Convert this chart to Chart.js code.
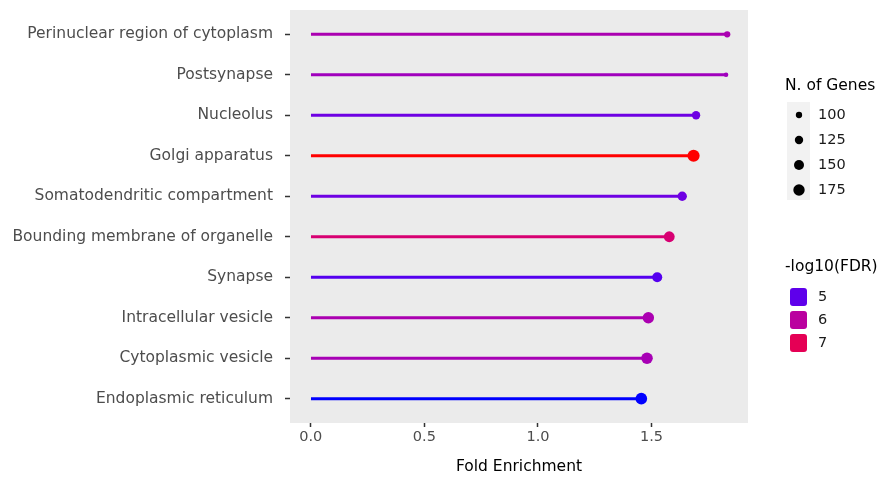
<!DOCTYPE html>
<html>
<head>
<meta charset="utf-8">
<script src="https://cdn.jsdelivr.net/npm/chart.js@4/dist/chart.umd.min.js"></script>
<style>
  html, body { margin: 0; padding: 0; background: #ffffff; }
  canvas { display: block; }
</style>
</head>
<body>
<canvas id="chart" width="879" height="479"></canvas>
<script>
// Cellular-component enrichment: one lollipop per term.
const terms = [
  'Perinuclear region of cytoplasm',
  'Postsynapse',
  'Nucleolus',
  'Golgi apparatus',
  'Somatodendritic compartment',
  'Bounding membrane of organelle',
  'Synapse',
  'Intracellular vesicle',
  'Cytoplasmic vesicle',
  'Endoplasmic reticulum'
];
const foldEnrichment = [1.833, 1.828, 1.696, 1.685, 1.635, 1.578, 1.525, 1.486, 1.480, 1.455];
const geneCounts     = [100, 84, 125, 190, 140, 165, 150, 175, 178, 180];
const negLog10FDR    = [5.75, 5.6, 5.1, 7.85, 5.1, 6.6, 4.95, 5.75, 5.7, 4.75];

const xTicks = [0, 0.5, 1, 1.5];
const sizeLegendValues = [100, 125, 150, 175];
const colorLegendValues = [5, 6, 7];

const FONT = '"DejaVu Sans", "Liberation Sans", sans-serif';

// ---- colour scale: blue -> red, interpolated in CIELAB ----
const WX = 0.95047, WY = 1.0, WZ = 1.08883;
function toLin(c) { c /= 255; return c <= 0.04045 ? c / 12.92 : Math.pow((c + 0.055) / 1.055, 2.4); }
function fromLin(c) {
  const v = c <= 0.0031308 ? 12.92 * c : 1.055 * Math.pow(c, 1 / 2.4) - 0.055;
  return Math.round(Math.max(0, Math.min(1, v)) * 255);
}
function fLab(t) { return t > 0.008856 ? Math.cbrt(t) : 7.787 * t + 16 / 116; }
function fInv(t) { return t > 0.206893 ? t * t * t : (t - 16 / 116) / 7.787; }
function rgbToLab(rgb) {
  const R = toLin(rgb[0]), G = toLin(rgb[1]), B = toLin(rgb[2]);
  const X = (R * 0.4124 + G * 0.3576 + B * 0.1805) / WX;
  const Y = (R * 0.2126 + G * 0.7152 + B * 0.0722) / WY;
  const Z = (R * 0.0193 + G * 0.1192 + B * 0.9505) / WZ;
  return [116 * fLab(Y) - 16, 500 * (fLab(X) - fLab(Y)), 200 * (fLab(Y) - fLab(Z))];
}
function labToRgb(lab) {
  const fy = (lab[0] + 16) / 116, fx = fy + lab[1] / 500, fz = fy - lab[2] / 200;
  const X = fInv(fx) * WX, Y = fInv(fy) * WY, Z = fInv(fz) * WZ;
  const R = X * 3.2406 - Y * 1.5372 - Z * 0.4986;
  const G = -X * 0.9689 + Y * 1.8758 + Z * 0.0415;
  const B = X * 0.0557 - Y * 0.2040 + Z * 1.0570;
  return [fromLin(R), fromLin(G), fromLin(B)];
}
const labLow = rgbToLab([0, 0, 255]);
const labHigh = rgbToLab([255, 0, 0]);
const fdrMin = Math.min(...negLog10FDR);
const fdrMax = Math.max(...negLog10FDR);
function fdrColour(v) {
  const t = Math.max(0, Math.min(1, (v - fdrMin) / (fdrMax - fdrMin)));
  const lab = labLow.map((c, i) => c + (labHigh[i] - c) * t);
  const rgb = labToRgb(lab);
  return 'rgb(' + rgb.join(',') + ')';
}

// ---- point size: area grows linearly with gene count ----
function geneRadius(n) {
  return Math.sqrt(Math.max(1, 10 + (n - 100) * 0.3));
}

const colours = negLog10FDR.map(fdrColour);

// Legends for point size and colour, drawn beside the panel
const sideLegends = {
  id: 'sideLegends',
  afterDraw(chart) {
    const ctx = chart.ctx;
    ctx.save();
    ctx.textBaseline = 'middle';
    ctx.textAlign = 'left';

    // size legend
    ctx.font = '15.5px ' + FONT;
    ctx.fillStyle = '#000000';
    ctx.fillText('N. of Genes', 785, 86);
    ctx.fillStyle = '#F2F2F2';
    ctx.fillRect(787, 102, 23, 98);
    sizeLegendValues.forEach((v, k) => {
      const y = 115 + k * 25;
      ctx.beginPath();
      ctx.arc(799, y, geneRadius(v), 0, Math.PI * 2);
      ctx.fillStyle = '#000000';
      ctx.fill();
      ctx.font = '14.5px ' + FONT;
      ctx.fillStyle = '#1a1a1a';
      ctx.fillText(String(v), 818, y);
    });

    // colour legend
    ctx.font = '15.5px ' + FONT;
    ctx.fillStyle = '#000000';
    ctx.fillText('-log10(FDR)', 785, 267);
    colorLegendValues.forEach((v, k) => {
      const y = 297 + k * 23;
      ctx.fillStyle = fdrColour(v);
      ctx.beginPath();
      ctx.roundRect(790, y - 9, 17, 18, 3);
      ctx.fill();
      ctx.font = '14.5px ' + FONT;
      ctx.fillStyle = '#1a1a1a';
      ctx.fillText(String(v), 818, y);
    });
    ctx.restore();
  }
};

// Grey panel behind the plot area
const panelBackground = {
  id: 'panelBackground',
  beforeDraw(chart) {
    const a = chart.chartArea;
    const ctx = chart.ctx;
    ctx.save();
    ctx.fillStyle = '#EBEBEB';
    ctx.fillRect(a.left, a.top, a.right - a.left, a.bottom - a.top);
    ctx.restore();
  }
};

const xMax = Math.max(...foldEnrichment);
const xPad = xMax * 0.05;

new Chart(document.getElementById('chart'), {
  type: 'bar',
  data: {
    datasets: [
      {
        type: 'scatter',
        data: foldEnrichment.map((v, i) => ({ x: v, y: i })),
        pointRadius: geneCounts.map(geneRadius),
        pointHoverRadius: geneCounts.map(geneRadius),
        pointBackgroundColor: colours,
        pointBorderWidth: 0,
        borderWidth: 0,
        order: 0
      },
      {
        type: 'bar',
        indexAxis: 'y',
        data: foldEnrichment.map((v, i) => ({ x: v, y: i })),
        backgroundColor: colours,
        borderWidth: 0,
        barThickness: 2.4,
        order: 1
      }
    ]
  },
  options: {
    responsive: false,
    animation: false,
    events: [],
    layout: { padding: { left: 0, right: 131, top: 10, bottom: 0 } },
    plugins: { legend: { display: false }, tooltip: { enabled: false } },
    scales: {
      x: {
        type: 'linear',
        position: 'bottom',
        offset: false,
        min: -xPad,
        max: xMax + xPad,
        afterBuildTicks(scale) { scale.ticks = xTicks.map(v => ({ value: v })); },
        afterFit(scale) { scale.height = 56; },
        ticks: {
          callback: v => v.toFixed(1),
          color: '#4D4D4D',
          font: { family: FONT, size: 14.5 },
          padding: 2,
          maxRotation: 0
        },
        grid: {
          offset: false,
          drawOnChartArea: false,
          drawTicks: true,
          tickLength: 4,
          tickColor: '#333333',
          tickWidth: 1.5
        },
        border: { display: false },
        title: {
          display: true,
          text: 'Fold Enrichment',
          color: '#000000',
          font: { family: FONT, size: 15.5 },
          padding: { top: 0, bottom: 3 }
        }
      },
      y: {
        type: 'linear',
        position: 'left',
        offset: false,
        reverse: true,
        min: -0.6,
        max: terms.length - 1 + 0.6,
        afterBuildTicks(scale) { scale.ticks = terms.map((t, i) => ({ value: i })); },
        afterFit(scale) {
          scale.width = 290;
          scale.paddingTop = 0;
          scale.paddingBottom = 0;
        },
        ticks: {
          callback: v => terms[v],
          color: '#4D4D4D',
          font: { family: FONT, size: 15.5 },
          padding: 12,
          autoSkip: false
        },
        grid: {
          offset: false,
          drawOnChartArea: false,
          drawTicks: true,
          tickLength: 5,
          tickColor: '#333333',
          tickWidth: 1.5
        },
        border: { display: false }
      }
    }
  },
  plugins: [panelBackground, sideLegends]
});
</script>
</body>
</html>
